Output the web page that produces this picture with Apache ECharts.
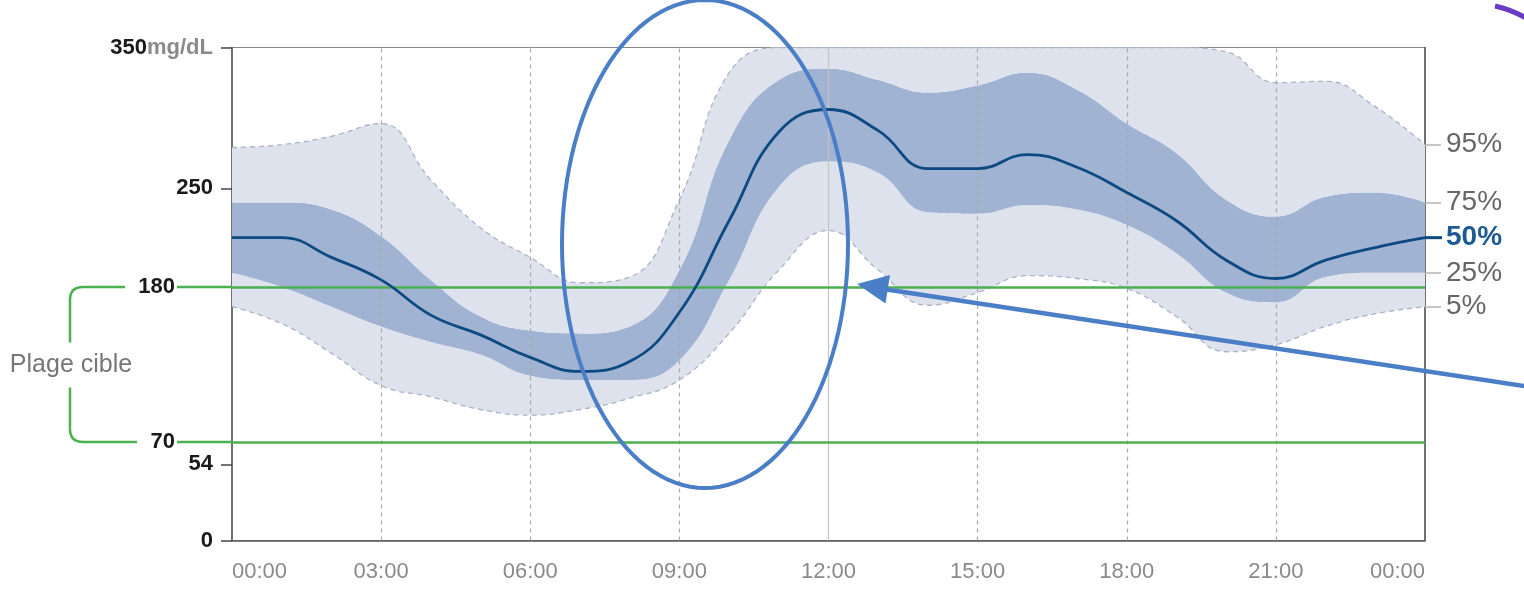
<!DOCTYPE html>
<html>
<head>
<meta charset="utf-8">
<script src="https://cdn.jsdelivr.net/npm/echarts@6/dist/echarts.min.js"></script>
<style>html,body{margin:0;padding:0;background:#fff}#c{width:1524px;height:591px}</style>
</head>
<body>
<div id="c"></div>
<script>
// ---- data (mg/dL by hour of day) ----
const hours = ['0','1','2','3','4','5','6','7','8','9','10','11','12','13','14','15','16','17','18','19','20','21','22','23','24'];
const xTicks = ['0','3','6','9','12','15','18','21','24'];
const xTickLabels = ['00:00','03:00','06:00','09:00','12:00','15:00','18:00','21:00','00:00'];
const p95 = [279,281,287,296,256,222,201,183,187,242,332,350,350,350,350,350,350,350,350,350,347,325,326,308,281];
const p75 = [240,240,235,216,185,159,149,147,152,192,284,327,335,327,318,323,332,320,296,275,242,230,244,247,240];
const p50 = [215,215,201,185,160,146,130,120,127,162,227,290,306,291,264,264,274,265,247,227,199,186,199,208,215];
const p25 = [190,180,166,152,141,132,117,114,114,128,185,251,269,261,233,232,238,235,224,204,176,169,187,190,190];
const p5  = [166,154,133,110,102,93,89,93,101,114,147,192,220,192,167,176,188,186,179,159,134,139,152,161,166];
const yTickValues = [0,54,250,350];
const yLabelValues = [0,54,70,180,250,350];
const targetRange = [70,180];
const pctNames = ['95%','75%','50%','25%','5%'];
const targetLabel = 'Plage cible';
const unit = 'mg/dL';

const FONT = 'Liberation Sans, Arial, sans-serif';
const LIGHT = '#dde2ed';
const DARK = '#a1b3d3';
const MED = '#0d4a82';
const GREEN = '#4caf50';
const ANNOT = '#4a7ec6';
const SM = 0.45;

const diff = (a, b) => a.map((v, i) => v - b[i]);
const last = arr => arr[arr.length - 1];
const endVals = [last(p95), last(p75), last(p50), last(p25), last(p5)];

const chart = echarts.init(document.getElementById('c'));
const option = {
  animation: false,
  textStyle: { fontFamily: FONT },
  grid: { left: 232, right: 99, top: 47.5, bottom: 50.5, show: true, borderColor: '#888', borderWidth: 1, backgroundColor: 'transparent', outerBoundsMode: 'none' },
  xAxis: {
    type: 'category', data: hours, boundaryGap: false,
    axisLine: { lineStyle: { color: '#555', width: 1.5 } },
    axisTick: { show: false },
    splitLine: { show: false },
    axisLabel: {
      color: '#8a8a8a', fontSize: 22, margin: 20,
      interval: (i, v) => xTicks.includes(v),
      alignMinLabel: 'left', alignMaxLabel: 'right',
      formatter: v => xTickLabels[xTicks.indexOf(v)]
    }
  },
  yAxis: [{
    type: 'value', min: 0, max: 350, position: 'left',
    axisLine: { show: true, lineStyle: { color: '#555', width: 1.5 } },
    axisTick: { show: true, length: 11, customValues: yTickValues, lineStyle: { color: '#444', width: 1.5 } },
    splitLine: { show: false },
    axisLabel: {
      customValues: yLabelValues, margin: 19,
      formatter: v => v === 350 ? '{b|350}{u|' + unit + '}' : (targetRange.includes(v) ? '{g|' + v + '}' : '{b|' + v + '}'),
      rich: {
        b: { fontWeight: 'bold', fontSize: 22, color: '#1a1a1a', fontFamily: FONT },
        u: { fontWeight: 'bold', fontSize: 22, color: '#8a8a8a', fontFamily: FONT },
        g: { fontWeight: 'bold', fontSize: 22, color: '#1a1a1a', fontFamily: FONT, padding: [0, 38, 0, 0] }
      }
    }
  }, {
    type: 'value', min: 0, max: 350, position: 'right',
    axisLine: { show: true, lineStyle: { color: '#555', width: 1.5 } },
    axisTick: { show: true, length: 16, customValues: endVals, lineStyle: { color: '#b5b5b5', width: 1.5 } },
    splitLine: { show: false },
    axisLabel: {
      customValues: endVals, margin: 21,
      formatter: v => {
        const n = pctNames[endVals.indexOf(v)];
        return n === '50%' ? '{m|' + n + '}' : '{p|' + n + '}';
      },
      rich: {
        p: { fontSize: 28, color: '#666', fontFamily: FONT },
        m: { fontSize: 28, color: '#1d5a94', fontWeight: 'bold', fontFamily: FONT }
      }
    }
  }],
  series: [
    { // vertical guide lines, behind everything
      type: 'line', data: p50, z: 0, symbol: 'none', silent: true,
      lineStyle: { opacity: 0 },
      markLine: {
        silent: true, symbol: 'none', label: { show: false },
        data: xTicks.slice(1, -1).map(v => ({
          xAxis: v,
          lineStyle: v === '12' ? { type: 'solid', color: '#c4c4c4', width: 1.2 } : { type: [4, 4], color: '#a8a8a8', width: 1.2 }
        }))
      }
    },
    { type: 'line', stack: 'agp', data: p5, smooth: SM, symbol: 'none', z: 2, lineStyle: { opacity: 0 }, silent: true },
    { type: 'line', stack: 'agp', data: diff(p25, p5), smooth: SM, symbol: 'none', z: 2, lineStyle: { opacity: 0 }, areaStyle: { color: LIGHT, opacity: 1 }, silent: true },
    { type: 'line', stack: 'agp', data: diff(p75, p25), smooth: SM, symbol: 'none', z: 2, lineStyle: { opacity: 0 }, areaStyle: { color: DARK, opacity: 1 }, silent: true },
    { type: 'line', stack: 'agp', data: diff(p95, p75), smooth: SM, symbol: 'none', z: 2, lineStyle: { opacity: 0 }, areaStyle: { color: LIGHT, opacity: 1 }, silent: true },
    { type: 'line', data: p95, smooth: SM, symbol: 'none', z: 3, lineStyle: { color: '#a9b2c6', width: 1.3, type: [5, 4] }, silent: true },
    { type: 'line', data: p5, smooth: SM, symbol: 'none', z: 3, lineStyle: { color: '#a9b2c6', width: 1.3, type: [5, 4] }, silent: true },
    { // target range lines
      type: 'line', data: [], z: 5, silent: true,
      markLine: {
        silent: true, symbol: 'none', label: { show: false },
        lineStyle: { color: GREEN, width: 2.5, type: 'solid' },
        data: targetRange.map(v => ({ yAxis: v }))
      }
    },
    { type: 'line', data: p50, smooth: SM, symbol: 'none', z: 6, lineStyle: { color: MED, width: 2.8 }, silent: true }
  ]
};
chart.setOption(option);

// decorations positioned from the chart's own scales
const yHi = chart.convertToPixel({ yAxisIndex: 0 }, targetRange[1]);
const yLo = chart.convertToPixel({ yAxisIndex: 0 }, targetRange[0]);
const x0 = chart.convertToPixel({ xAxisIndex: 0 }, hours[0]);
const xEnd = chart.convertToPixel({ xAxisIndex: 0 }, last(hours));
const y50 = chart.convertToPixel({ yAxisIndex: 1 }, last(p50));
const mid = (yHi + yLo) / 2;
const bx = 70, r = 13;
const gs = { stroke: GREEN, lineWidth: 2.5, fill: null };

// annotation ellipse outline (overlay on the original picture)
const ell = [];
for (let k = 0; k <= 120; k++) {
  const t = k / 120 * 2 * Math.PI;
  ell.push([705 + 143 * Math.cos(t), 244 + 244 * Math.sin(t)]);
}

chart.setOption({
  graphic: [
    { type: 'line', shape: { x1: 177, y1: yHi, x2: x0, y2: yHi }, style: gs, z: 10 },
    { type: 'line', shape: { x1: 177, y1: yLo, x2: x0, y2: yLo }, style: gs, z: 10 },
    { type: 'line', shape: { x1: 125, y1: yHi, x2: bx + r, y2: yHi }, style: gs, z: 10 },
    { type: 'bezierCurve', shape: { x1: bx + r, y1: yHi, cpx1: bx, cpy1: yHi, x2: bx, y2: yHi + r }, style: gs, z: 10 },
    { type: 'line', shape: { x1: bx, y1: yHi + r, x2: bx, y2: mid - 22 }, style: gs, z: 10 },
    { type: 'line', shape: { x1: bx, y1: mid + 23, x2: bx, y2: yLo - r }, style: gs, z: 10 },
    { type: 'bezierCurve', shape: { x1: bx, y1: yLo - r, cpx1: bx, cpy1: yLo, x2: bx + r, y2: yLo }, style: gs, z: 10 },
    { type: 'line', shape: { x1: bx + r, y1: yLo, x2: 137, y2: yLo }, style: gs, z: 10 },
    { type: 'text', x: bx + 1, y: mid + 1, style: { text: targetLabel, font: '25px ' + FONT, fill: '#777', align: 'center', verticalAlign: 'middle' }, z: 10 },
    { type: 'line', shape: { x1: xEnd, y1: y50, x2: xEnd + 17, y2: y50 }, style: { stroke: MED, lineWidth: 3 }, z: 10 },
    { type: 'polyline', shape: { points: ell, smooth: 0 }, style: { fill: null, stroke: ANNOT, lineWidth: 4 }, z: 20 },
    { type: 'line', shape: { x1: 1530, y1: 387, x2: 880, y2: 288.5 }, style: { stroke: ANNOT, lineWidth: 4.5 }, z: 20 },
    { type: 'polygon', shape: { points: [[857, 284], [890, 275], [885.5, 303.5]] }, style: { fill: ANNOT }, z: 20 },
    { type: 'bezierCurve', shape: { x1: 1495, y1: 6, cpx1: 1512, cpy1: 10, x2: 1526, y2: 18 }, style: { stroke: '#6a3cc6', lineWidth: 5, fill: null }, z: 20 }
  ]
});
</script>
</body>
</html>
